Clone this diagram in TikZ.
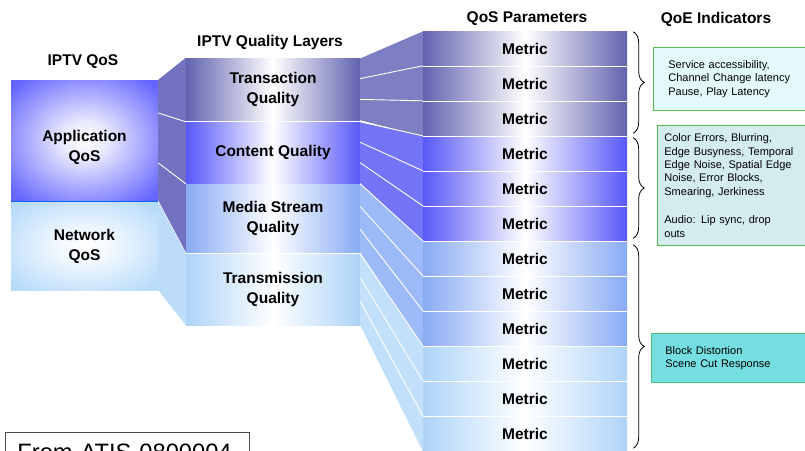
\documentclass[tikz,border=0pt]{standalone}
\usepackage{fontspec}
\setmainfont{Liberation Sans}
\usetikzlibrary{calc,decorations.pathreplacing}

\definecolor{appblue}{HTML}{6464FF}
\definecolor{netblue}{HTML}{B6DAFA}
\definecolor{slate}{HTML}{6262B0}
\definecolor{bright}{HTML}{5858F8}
\definecolor{midblue}{HTML}{88AAF4}
\definecolor{paleblue}{HTML}{AED4F8}
\definecolor{appband}{HTML}{7272C0}
\definecolor{netband}{HTML}{BCDCF8}
\definecolor{slateband}{HTML}{7E7EC2}
\definecolor{brightband}{HTML}{7474F8}
\definecolor{midband}{HTML}{9CBAF8}
\definecolor{paleband}{HTML}{C2E0FA}
\definecolor{qoeline}{HTML}{4CBB4C}
\definecolor{qoeteal}{HTML}{48C078}
\definecolor{qoefill}{HTML}{E4FAFA}
\definecolor{qoegrey}{HTML}{D4ECF0}
\definecolor{qoecyan}{HTML}{74DEE0}
\colorlet{glowcol}{white}
\pgfdeclareradialshading[glowcol]{glow}{\pgfpoint{0bp}{0bp}}{color(0bp)=(white); color(8bp)=(white!85!glowcol); color(33bp)=(glowcol); color(50bp)=(glowcol)}

\newcommand{\labfont}{\bfseries\fontsize{15.5}{20}\selectfont}

\begin{document}
\begin{tikzpicture}[x=1pt, y=-1pt,
    glow color/.code={\colorlet{glowcol}{#1}},
    qosbox/.style={shading=glow, glow color=#1, minimum width=147pt, inner sep=0pt, align=center, font=\labfont},
    layer/.style={left color=#1, right color=#1, middle color=white, minimum width=174pt, inner sep=0pt, align=center, font=\labfont},
    metric/.style={left color=#1, right color=#1, middle color=white, minimum width=204pt, minimum height=35pt, inner sep=0pt, font=\labfont},
    head/.style={font=\labfont},
    qoe/.style={draw=#1, line width=0.8pt, anchor=north west, text width=180pt, align=left, inner ysep=0pt, font=\fontsize{11}{13.4}\selectfont},
    sep/.style={white, line width=0.9pt},
    qoebrace/.style={decorate, decoration={brace, amplitude=11pt}, line width=0.8pt}]
    \path[use as bounding box, clip] (0,0) rectangle (805,450);

    % Headings
    \node[head] (qoshead) at (83,62) {IPTV QoS};
    \node[head] (layhead) at (270,42) {IPTV Quality Layers};
    \node[head] (parhead) at (527,19) {QoS Parameters};
    \node[head] (qoehead) at (716,19) {QoE Indicators};

    % IPTV QoS
    \node[qosbox=appblue, minimum height=120pt, text height=42pt, text depth=0pt] (app) at (84.5,140) {Application\\QoS};
    \node[qosbox=netblue, minimum height=88pt] (net) at (84.5,246) {Network\\QoS};
    \draw[line width=0.8pt, draw=blue!60!cyan] (net.north west) -- (net.north east);

    % Quality layers
    \node[layer=slate, minimum height=62pt] (trans) at (273,89) {Transaction\\Quality};
    \node[layer=bright, minimum height=61pt] (content) at (273,152.5) {Content Quality};
    \node[layer=midblue, minimum height=68pt] (media) at (273,218) {Media Stream\\Quality};
    \node[layer=paleblue, minimum height=71pt] (transm) at (273,289.5) {Transmission\\Quality};

    % Metrics
    \foreach \i/\col in {1/slate,2/slate,3/slate,4/bright,5/bright,6/bright,7/midblue,8/midblue,9/midblue,10/paleblue,11/paleblue,12/paleblue}
        \node[metric=\col] (m\i) at (525,13.5+35*\i) {Metric};
    \foreach \i in {1,...,11}
        \draw[sep] (m\i.south west) -- (m\i.south east);

    % Bands
    \fill[appband] (app.north east) -- (trans.north west) -- (media.south west) -- (app.south east) -- cycle;
    \fill[netband] (net.north east) -- (transm.north west) -- (transm.south west) -- (net.south east) -- cycle;
    \draw[sep] ($(app.north east)!0.275!(app.south east)$) -- (content.north west);
    \draw[sep] ($(app.north east)!0.69!(app.south east)$) -- (media.north west);
    \foreach \lay/\a/\b/\c/\col in {trans/1/2/3/slateband, content/4/5/6/brightband, media/7/8/9/midband, transm/10/11/12/paleband} {
        \fill[\col] (\lay.north east) -- (m\a.north west) -- (m\c.south west) -- (\lay.south east) -- cycle;
        \draw[sep] (\lay.north east) -- (m\a.north west);
        \draw[sep] ($(\lay.north east)!1/3!(\lay.south east)$) -- (m\b.north west);
        \draw[sep] ($(\lay.north east)!2/3!(\lay.south east)$) -- (m\c.north west);
    }

    % Braces
    \draw[qoebrace] ($(m1.north east)+(6,1)$) -- ($(m3.south east)+(6,-3)$);
    \draw[qoebrace] ($(m4.north east)+(6,2)$) -- ($(m6.south east)+(6,-3)$);
    \draw[qoebrace] ($(m7.north east)+(6,4)$) -- ($(m12.south east)+(6,-3)$);

    % QoE indicators
    \node[qoe=qoeline, fill=qoefill, minimum height=63pt, inner xsep=15pt] (qoe1) at (653,47)
        {Service accessibility,\\Channel Change latency\\Pause, Play Latency};
    \node[qoe=qoeline, fill=qoegrey, minimum height=120pt, inner xsep=7pt] (qoe2) at (657,125)
        {Color Errors, Blurring,\\Edge Busyness, Temporal\\Edge Noise, Spatial Edge\\Noise, Error Blocks,\\Smearing, Jerkiness\\[15pt]Audio: Lip sync, drop\\outs};
    \node[qoe=qoeteal, fill=qoecyan, minimum height=49pt, inner xsep=14pt] (qoe3) at (651,333)
        {Block Distortion\\Scene Cut Response};

    \node[draw=black!70, line width=0.8pt, anchor=north west, text width=220pt, align=left, inner xsep=12pt, minimum height=40pt, font=\fontsize{23.7}{28}\selectfont] (atis) at (5,432) {From ATIS 0800004};
\end{tikzpicture}
\end{document}
